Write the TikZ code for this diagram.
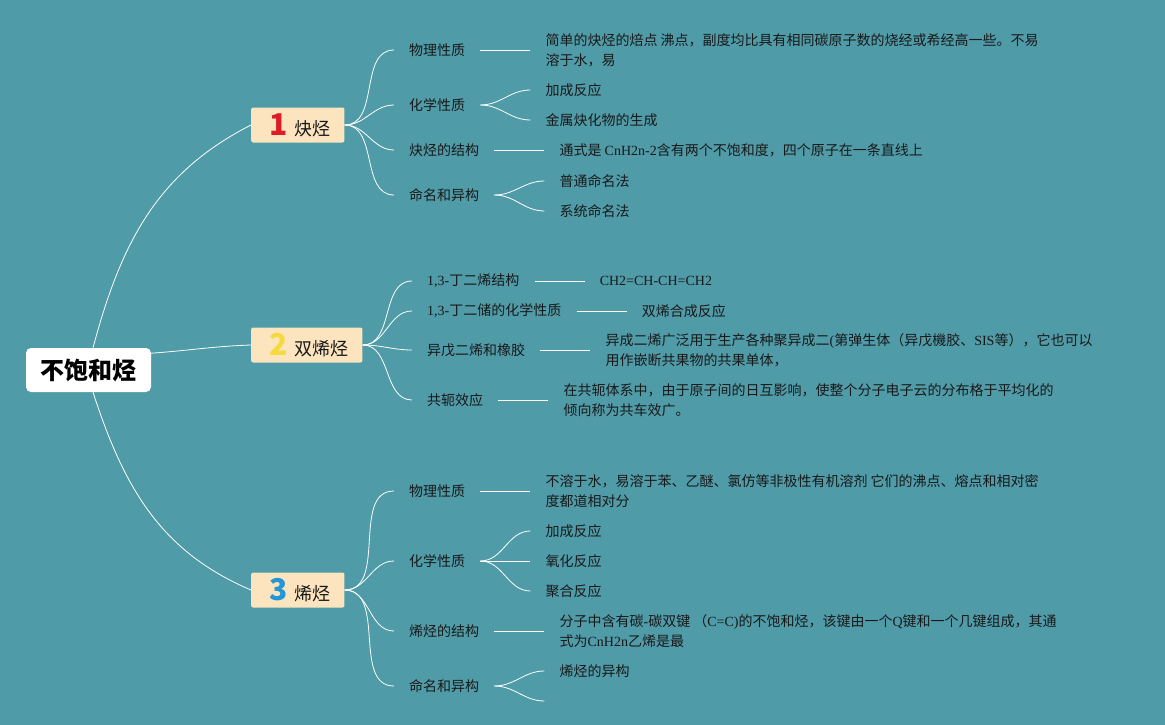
\documentclass[tikz,border=0pt]{standalone}
\usepackage{fontspec}
\setmainfont{Noto Sans CJK SC}
\newfontfamily\enfont{Liberation Serif}
\usepackage{tikz}
\usetikzlibrary{positioning}

\definecolor{bgteal}{RGB}{80,155,168}
\definecolor{topicfill}{RGB}{251,228,190}
\definecolor{numred}{RGB}{222,28,38}
\definecolor{numyellow}{RGB}{245,218,60}
\definecolor{numblue}{RGB}{35,150,215}
\definecolor{inkdark}{RGB}{25,25,25}

\newcommand{\en}[1]{{\enfont #1}}
\newcommand{\topicnum}[2]{\hspace{4pt}{\color{#1}\fontsize{30}{30}\selectfont\bfseries #2}\hspace{7pt}}

\begin{document}
\begin{tikzpicture}[
    x=1pt, y=-1pt,
    node distance=50pt,
    rootbox/.style={fill=white, rounded corners=5pt, minimum width=125pt, minimum height=44pt,
        inner sep=0pt, font=\fontsize{24}{28}\selectfont\bfseries, text=black},
    topicbox/.style={anchor=west, fill=topicfill, rounded corners=2pt, minimum height=35pt,
        text height=22pt, text depth=2pt,
        inner xsep=14pt, inner ysep=0pt, font=\fontsize{18}{20}\selectfont, text=inkdark},
    subtopic/.style={anchor=west, inner xsep=15pt, inner ysep=2pt,
        font=\fontsize{14}{20}\selectfont, text=inkdark},
    leafnote/.style={subtopic, align=left},
    link/.style={draw=white, line width=0.8pt}
    ]

    % 背景
    \fill[bgteal] (0,0) rectangle (1165,725);
    \useasboundingbox (0,0) rectangle (1165,725);

    % 中心主题
    \node[rootbox] (root) at (88.5,370) {不饱和烃};

    % 一级主题
    \node[topicbox] (k1) at (251,125) {\topicnum{numred}{1}炔烃};
    \node[topicbox] (k2) at (251,345) {\topicnum{numyellow}{2}双烯烃};
    \node[topicbox] (k3) at (251,590) {\topicnum{numblue}{3}烯烃};

    % 炔烃
    \node[subtopic] (k1a) at (394,50) {物理性质};
    \node[subtopic] (k1b) at (394,105) {化学性质};
    \node[subtopic] (k1c) at (394,150) {炔烃的结构};
    \node[subtopic] (k1d) at (394,195) {命名和异构};
    \node[leafnote, right=of k1a] (k1a1) {简单的炔烃的焙点 沸点，副度均比具有相同碳原子数的烧经或希经高一些。不易\\溶于水，易};
    \node[leafnote, right=of k1b, yshift=15pt] (k1b1) {加成反应};
    \node[leafnote, right=of k1b, yshift=-15pt] (k1b2) {金属炔化物的生成};
    \node[leafnote, right=of k1c] (k1c1) {通式是 \en{CnH2n-2}含有两个不饱和度，四个原子在一条直线上};
    \node[leafnote, right=of k1d, yshift=14pt] (k1d1) {普通命名法};
    \node[leafnote, right=of k1d, yshift=-16pt] (k1d2) {系统命名法};

    % 双烯烃
    \node[subtopic] (k2a) at (412,281) {\en{1,3-}丁二烯结构};
    \node[subtopic] (k2b) at (412,311) {\en{1,3-}丁二储的化学性质};
    \node[subtopic] (k2c) at (412,350) {异戊二烯和橡胶};
    \node[subtopic] (k2d) at (412,400) {共轭效应};
    \node[leafnote, right=of k2a] (k2a1) {\en{CH2=CH-CH=CH2}};
    \node[leafnote, right=of k2b] (k2b1) {双烯合成反应};
    \node[leafnote, right=of k2c] (k2c1) {异成二烯广泛用于生产各种聚异成二\en{(}第弹生体（异戊機胶、\en{SIS}等），它也可以\\用作嵌断共果物的共果单体，};
    \node[leafnote, right=of k2d] (k2d1) {在共轭体系中，由于原子间的日互影响，使整个分子电子云的分布格于平均化的\\倾向称为共车效广。};

    % 烯烃
    \node[subtopic] (k3a) at (394,491) {物理性质};
    \node[subtopic] (k3b) at (394,561) {化学性质};
    \node[subtopic] (k3c) at (394,631) {烯烃的结构};
    \node[subtopic] (k3d) at (394,686) {命名和异构};
    \node[leafnote, right=of k3a] (k3a1) {不溶于水，易溶于苯、乙醚、氯仿等非极性有机溶剂 它们的沸点、熔点和相对密\\度都道相对分};
    \node[leafnote, right=of k3b, yshift=30pt] (k3b1) {加成反应};
    \node[leafnote, right=of k3b] (k3b2) {氧化反应};
    \node[leafnote, right=of k3b, yshift=-30pt] (k3b3) {聚合反应};
    \node[leafnote, right=of k3c] (k3c1) {分子中含有碳\en{-}碳双键 （\en{C=C)}的不饱和烃，该键由一个\en{Q}键和一个几键组成，其通\\式为\en{CnH2n}乙烯是最};
    \node[leafnote, right=of k3d, yshift=15pt] (k3d1) {烯烃的异构};
    \coordinate[right=of k3d, yshift=-15pt] (k3d2);

    % 中心到一级主题
    \draw[link] ([xshift=4.5pt]root.north) to[out=75, in=207] (k1.west);
    \draw[link] (root.15) to[out=4, in=182] (k2.west);
    \draw[link] ([xshift=4.5pt]root.south) to[out=-72, in=157] (k3.west);

    % 一级到二级
    \draw[link] (k1.east) to[out=0, in=180] (k1a.west);
    \draw[link] (k1.east) to[out=0, in=180] (k1b.west);
    \draw[link] (k1.east) to[out=0, in=180] (k1c.west);
    \draw[link] (k1.east) to[out=0, in=180] (k1d.west);
    \draw[link] (k2.east) to[out=0, in=180] (k2a.west);
    \draw[link] (k2.east) to[out=0, in=180] (k2b.west);
    \draw[link] (k2.east) to[out=0, in=180] (k2c.west);
    \draw[link] (k2.east) to[out=0, in=180] (k2d.west);
    \draw[link] (k3.east) to[out=0, in=180] (k3a.west);
    \draw[link] (k3.east) to[out=0, in=180] (k3b.west);
    \draw[link] (k3.east) to[out=0, in=180] (k3c.west);
    \draw[link] (k3.east) to[out=0, in=180] (k3d.west);

    % 二级到说明
    \draw[link] (k1a.east) -- (k1a1.west);
    \draw[link] (k1b.east) to[out=0, in=180] (k1b1.west);
    \draw[link] (k1b.east) to[out=0, in=180] (k1b2.west);
    \draw[link] (k1c.east) -- (k1c1.west);
    \draw[link] (k1d.east) to[out=0, in=180] (k1d1.west);
    \draw[link] (k1d.east) to[out=0, in=180] (k1d2.west);
    \draw[link] (k2a.east) -- (k2a1.west);
    \draw[link] (k2b.east) -- (k2b1.west);
    \draw[link] (k2c.east) -- (k2c1.west);
    \draw[link] (k2d.east) -- (k2d1.west);
    \draw[link] (k3a.east) -- (k3a1.west);
    \draw[link] (k3b.east) to[out=0, in=180] (k3b1.west);
    \draw[link] (k3b.east) -- (k3b2.west);
    \draw[link] (k3b.east) to[out=0, in=180] (k3b3.west);
    \draw[link] (k3c.east) -- (k3c1.west);
    \draw[link] (k3d.east) to[out=0, in=180] (k3d1.west);
    \draw[link] (k3d.east) to[out=0, in=180] (k3d2);
\end{tikzpicture}
\end{document}
